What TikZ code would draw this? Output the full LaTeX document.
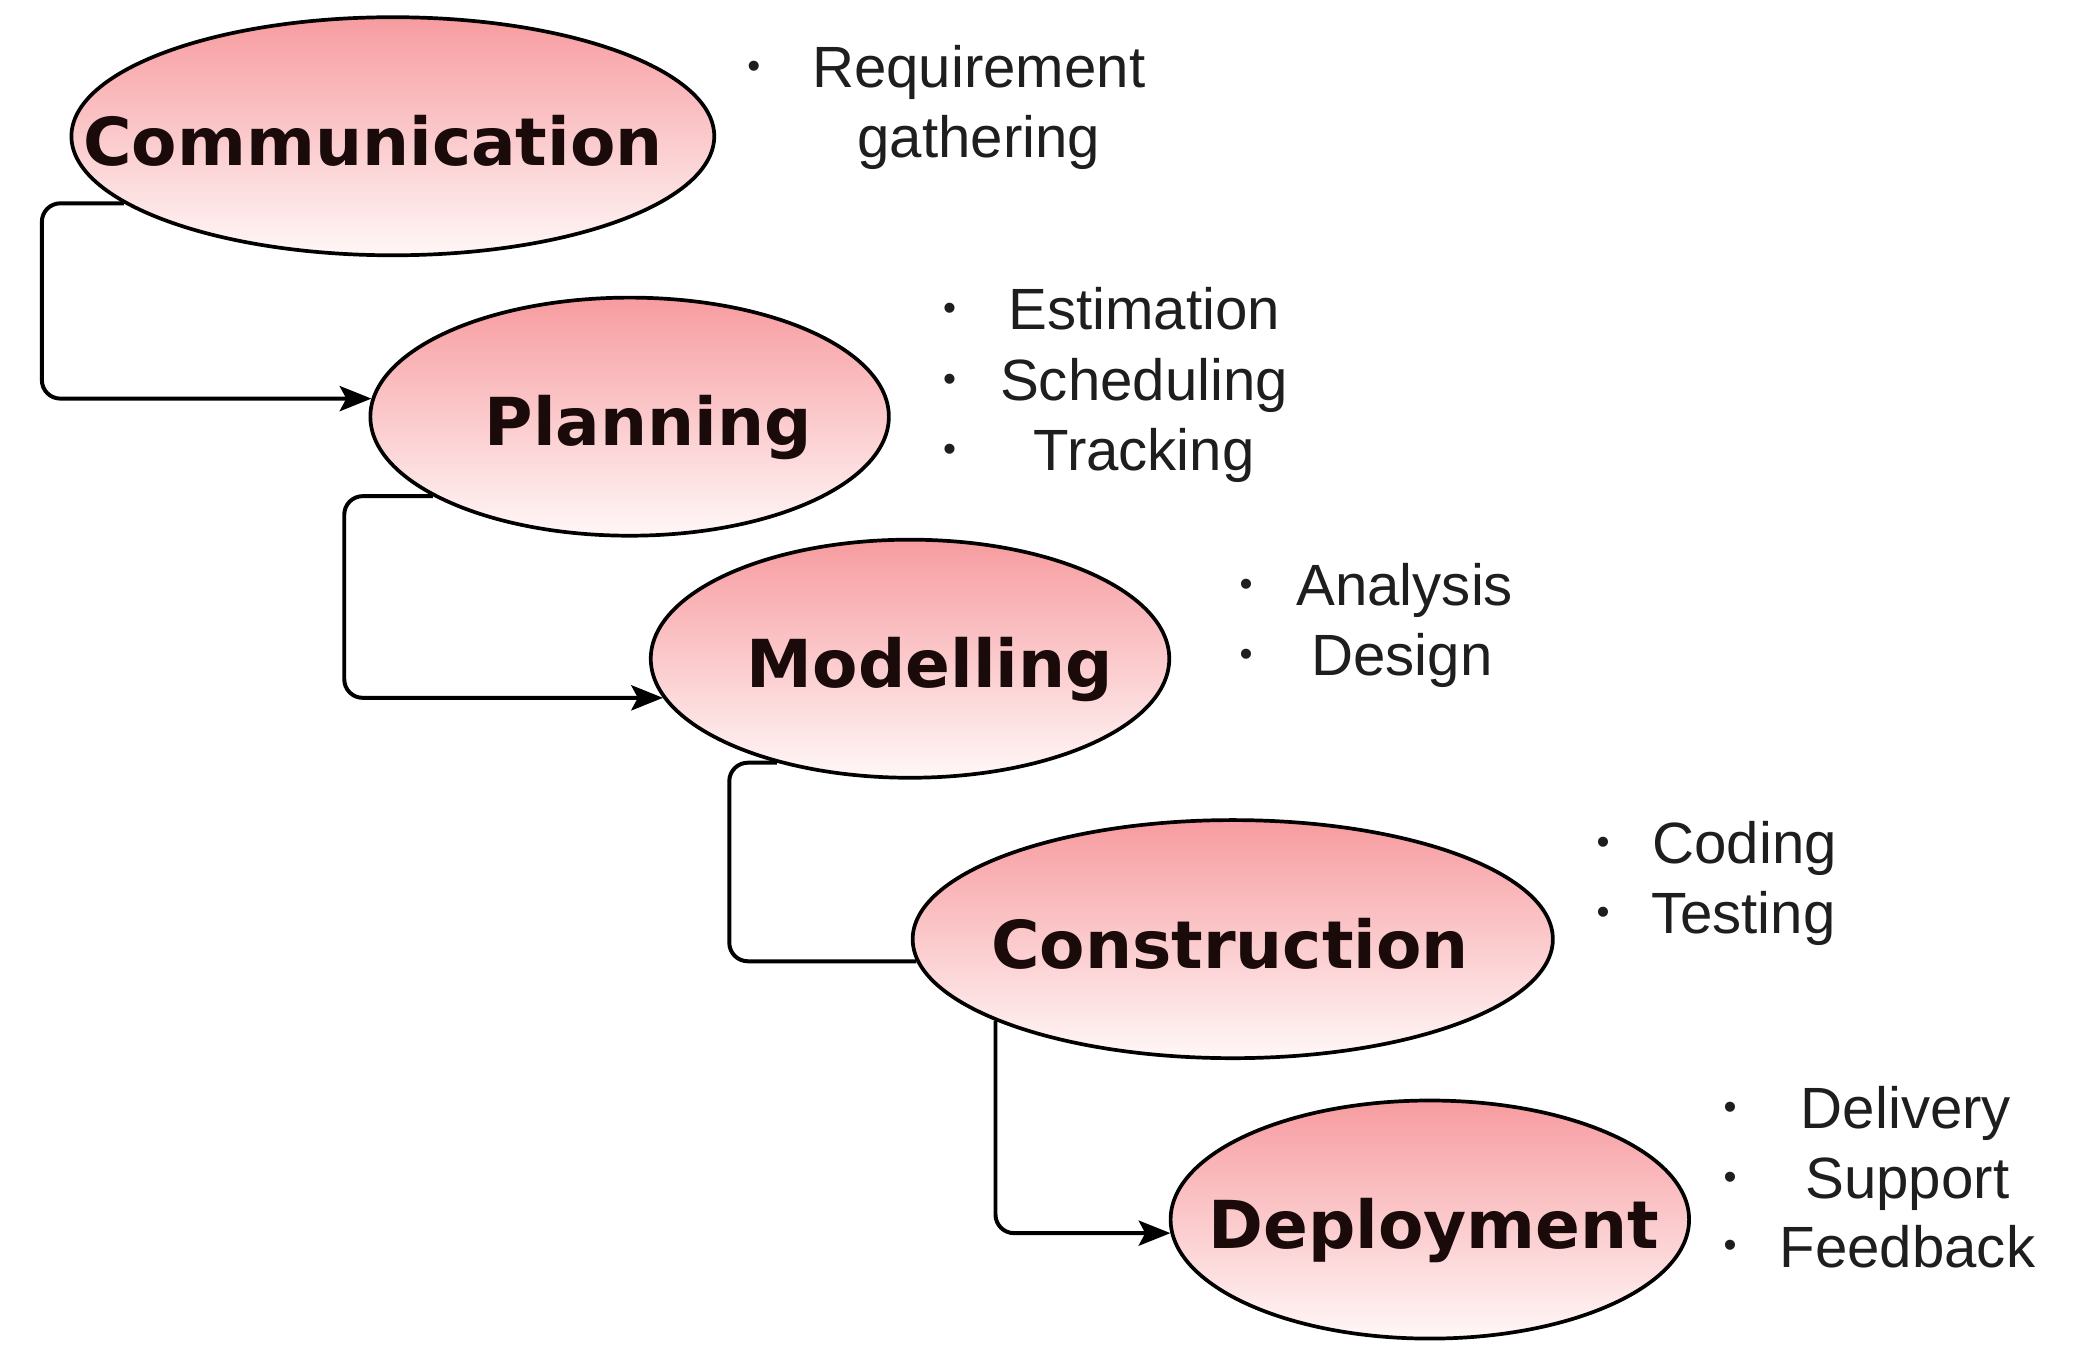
\documentclass[tikz,border=0pt]{standalone}
\usepackage{fontspec}
\setmainfont{Liberation Sans}
\newfontfamily\dvs{DejaVu Sans}
\usetikzlibrary{shapes.geometric,arrows.meta}
\definecolor{pinktop}{RGB}{247,156,160}
\definecolor{pinkmid}{RGB}{250,196,198}
\definecolor{pinkbot}{RGB}{255,247,247}
\definecolor{lbltext}{RGB}{26,10,10}
\definecolor{bultext}{RGB}{30,30,30}
\tikzset{
  phase/.style={ellipse, draw=black, line width=2.8pt, top color=pinktop, middle color=pinkmid, bottom color=pinkbot, inner sep=0pt},
  phasetext/.style={font=\dvs\bfseries\fontsize{50}{60}\selectfont, text=lbltext, inner sep=0pt, text height=44pt, text depth=0pt, anchor=center},
  item/.style={font=\fontsize{44}{52}\selectfont, text=bultext, inner sep=0pt, anchor=base},
  bul/.style={font=\fontsize{28}{30}\selectfont, text=bultext, inner sep=0pt, anchor=base},
  conn/.style={draw=black, line width=3pt, rounded corners=14pt},
  arr/.style={-{Stealth[length=24pt,width=19pt,inset=5pt]}}
}
\begin{document}
\begin{tikzpicture}[x=1pt,y=-1pt]
\useasboundingbox[fill=white] (0,0) rectangle (1568,1021);

% phases
\node[phase, minimum width=486pt, minimum height=180pt] (comm) at (297,103) {};
\node[phase, minimum width=392pt, minimum height=180pt] (plan) at (476,315) {};
\node[phase, minimum width=392pt, minimum height=180pt] (mod) at (688,498) {};
\node[phase, minimum width=484pt, minimum height=180pt] (con) at (932,710) {};
\node[phase, minimum width=392pt, minimum height=180pt] (dep) at (1081,922) {};

\node[phasetext] (commt) at ([xshift=-15pt]comm.center) {Communication};
\node[phasetext] (plant) at ([xshift=14pt]plan.center) {Planning};
\node[phasetext] (modt) at ([xshift=15pt]mod.center) {Modelling};
\node[phasetext] (cont) at ([xshift=-2pt]con.center) {Construction};
\node[phasetext] (dept) at ([xshift=3pt]dep.center) {Deployment};

% connectors
\draw[conn,arr] (comm.194) -- ++(-62,0) |- (plan.176);
\draw[conn,arr] (plan.202) -- ++(-67,0) |- (mod.189);
\draw[conn] (mod.218.5) -- ++(-36,0) |- (con.184);
\draw[conn,arr] (con.199) |- (dep.183);

% bullet lists
\node[bul] (b11) at (570,59) {•};
\node[item] (t11) at (740,66) {Requirement};
\node[item] (t12) at (740,119) {gathering};

\node[bul] (b21) at (718,242) {•};
\node[bul] (b22) at (718,296) {•};
\node[bul] (b23) at (718,349) {•};
\node[item] (t21) at (865,249) {Estimation};
\node[item] (t22) at (865,303) {Scheduling};
\node[item] (t23) at (865,356) {Tracking};

\node[bul] (b31) at (942,451) {•};
\node[bul] (b32) at (942,504) {•};
\node[item] (t31) at (1062,458) {Analysis};
\node[item] (t32) at (1060,511) {Design};

\node[bul] (b41) at (1212,646) {•};
\node[bul] (b42) at (1212,699) {•};
\node[item] (t41) at (1319,653) {Coding};
\node[item] (t42) at (1318,706) {Testing};

\node[bul] (b51) at (1308,846) {•};
\node[bul] (b52) at (1308,899) {•};
\node[bul] (b53) at (1308,951) {•};
\node[item] (t51) at (1441,853) {Delivery};
\node[item] (t52) at (1442,906) {Support};
\node[item] (t53) at (1442,958) {Feedback};
\end{tikzpicture}
\end{document}
